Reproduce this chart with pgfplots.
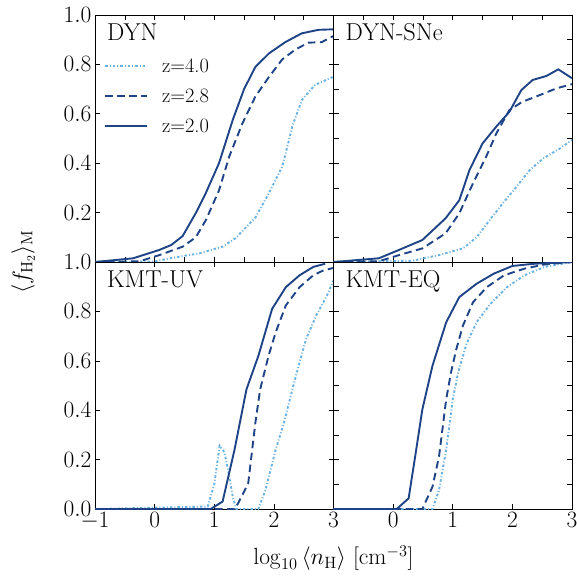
\RequirePackage{fix-cm}
\documentclass[border=0pt]{standalone}
\usepackage{pgfplots}
\pgfplotsset{compat=1.18}
\usepgfplotslibrary{groupplots}
\definecolor{dk}{RGB}{30,68,135}
\definecolor{lt}{RGB}{105,178,225}
\tikzset{ptitle/.style={anchor=north west, font=\fontsize{24.5}{28}\selectfont, inner sep=0pt}}
\pgfplotsset{
  every axis/.append style={
    scale only axis, width=238.5bp, height=247bp,
    xmin=-1, xmax=3, ymin=0, ymax=1,
    tick align=inside, major tick length=5bp,
    tick label style={font=\fontsize{23.5}{27}\selectfont},
    yticklabel style={/pgf/number format/.cd, fixed, fixed zerofill, precision=1},
    axis line style={line width=0.8bp},
    every tick/.style={black, line width=0.6bp},
  },
  sol/.style={dk, line width=1.9bp},
  das/.style={dk, line width=1.9bp, dash pattern=on 7.5bp off 4.5bp},
  dot/.style={lt, line width=1.9bp, dash pattern=on 2.5bp off 2bp on 1bp off 2bp},
}
\begin{document}
\begin{tikzpicture}
\begin{groupplot}[group style={group size=2 by 2, horizontal sep=0pt, vertical sep=0pt}]
% DYN
\nextgroupplot[xticklabels={}, ytick={0.2,0.4,0.6,0.8,1.0},
  legend style={draw=none, fill=none, at={(0.025,0.84)}, anchor=north west,
    font=\fontsize{20.5}{24}\selectfont, row sep=11bp},
  legend cell align=left,
  legend image code/.code={\draw[#1] (0bp,0bp) -- (42bp,0bp); \path (54bp,0bp);}]
\addplot[dot] coordinates {(-1,0) (0,0.002) (0.25,0.015) (0.75,0.035) (1.14,0.062) (1.36,0.097) (1.69,0.18) (1.92,0.28) (2.14,0.386) (2.25,0.49) (2.31,0.55) (2.47,0.656) (2.69,0.717) (3,0.75)};
\addlegendentry{z=4.0}
\addplot[das] coordinates {(-1,0) (-0.25,0.003) (0.08,0.028) (0.47,0.062) (0.69,0.10) (0.86,0.17) (1.08,0.29) (1.25,0.426) (1.47,0.56) (1.69,0.67) (1.92,0.75) (2.14,0.82) (2.36,0.86) (2.58,0.888) (2.8,0.89) (3,0.915)};
\addlegendentry{z=2.8}
\addplot[sol] coordinates {(-1,0) (-0.36,0.015) (0.08,0.049) (0.28,0.069) (0.47,0.105) (0.69,0.198) (0.86,0.28) (1.08,0.40) (1.31,0.575) (1.5,0.70) (1.69,0.79) (1.92,0.845) (2.19,0.89) (2.47,0.926) (2.75,0.94) (3,0.942)};
\addlegendentry{z=2.0}
\node[ptitle] at (rel axis cs:0.05,0.966) {DYN};
% DYN-SNe
\nextgroupplot[xticklabels={}, yticklabels={}]
\addplot[dot] coordinates {(-1,0) (0.32,0.005) (0.77,0.028) (1.17,0.055) (1.4,0.10) (1.62,0.17) (1.84,0.238) (2.07,0.305) (2.29,0.372) (2.52,0.42) (2.8,0.46) (3,0.494)};
\addplot[das] coordinates {(-1,0) (-0.24,0.003) (0.1,0.028) (0.49,0.055) (0.88,0.116) (1.11,0.197) (1.34,0.319) (1.56,0.426) (1.73,0.52) (1.95,0.615) (2.17,0.649) (2.4,0.67) (2.74,0.703) (3,0.72)};
\addplot[sol] coordinates {(-1,0) (-0.24,0.015) (0.1,0.049) (0.49,0.089) (0.88,0.177) (1.11,0.25) (1.28,0.372) (1.5,0.48) (1.73,0.548) (1.95,0.608) (2.15,0.696) (2.34,0.737) (2.57,0.753) (2.77,0.78) (3,0.744)};
\node[ptitle] at (rel axis cs:0.05,0.966) {DYN-SNe};
% KMT-UV
\nextgroupplot[xtick={-1,0,1,2,3}, ytick={0,0.2,0.4,0.6,0.8,1.0}]
\addplot[dot] coordinates {(-1,0) (0.89,0.01) (1.0,0.10) (1.09,0.256) (1.17,0.23) (1.23,0.16) (1.31,0.05) (1.37,0.0) (1.74,0.0) (1.86,0.077) (2.03,0.24) (2.17,0.35) (2.31,0.484) (2.43,0.593) (2.54,0.688) (2.71,0.783) (2.89,0.864) (3,0.925)};
\addplot[das] coordinates {(-1,0) (1.34,0) (1.4,0.023) (1.57,0.104) (1.69,0.35) (1.77,0.484) (1.91,0.62) (2.03,0.715) (2.2,0.824) (2.43,0.898) (2.66,0.946) (2.83,0.966) (3,0.976)};
\addplot[sol] coordinates {(-1,0) (0.94,0) (1.14,0.03) (1.34,0.24) (1.54,0.484) (1.74,0.62) (1.97,0.81) (2.2,0.898) (2.43,0.946) (2.66,0.98) (2.86,0.993)};
\node[ptitle] at (rel axis cs:0.05,0.966) {KMT-UV};
% KMT-EQ
\nextgroupplot[xtick={0,1,2,3}, yticklabels={}]
\addplot[dot] coordinates {(-1,0) (0.66,0) (0.77,0.077) (0.89,0.24) (1.0,0.444) (1.09,0.552) (1.23,0.668) (1.4,0.756) (1.63,0.83) (1.91,0.898) (2.2,0.946) (2.54,0.98) (3,1.0)};
\addplot[das] coordinates {(-1,0) (0.49,0) (0.66,0.09) (0.77,0.213) (0.89,0.444) (0.97,0.552) (1.06,0.647) (1.17,0.742) (1.34,0.837) (1.57,0.898) (1.86,0.946) (2.2,0.973) (2.54,0.99) (3,1.0)};
\addplot[sol] coordinates {(-1,0) (0.06,0) (0.26,0.043) (0.37,0.213) (0.49,0.403) (0.66,0.58) (0.89,0.756) (1.11,0.858) (1.4,0.912) (1.69,0.953) (2.0,0.984) (2.37,0.993) (3,1.0)};
\node[ptitle] at (rel axis cs:0.05,0.966) {KMT-EQ};
\end{groupplot}
\node[rotate=90, font=\fontsize{23.5}{27}\selectfont] at ([xshift=-72bp]group c1r1.south west) {$\langle f_{\mathrm{H_2}}\rangle_{\mathrm{M}}$};
\node[font=\fontsize{23.5}{27}\selectfont] at ([yshift=-49bp]group c1r2.south east) {$\log_{10}\,\langle n_{\mathrm{H}}\rangle$ [cm$^{-3}$]};
\pgfresetboundingbox
\path ([xshift=-95bp,yshift=15bp]group c1r1.north west) rectangle ([xshift=5bp,yshift=-67bp]group c2r2.south east);
\end{tikzpicture}
\end{document}
